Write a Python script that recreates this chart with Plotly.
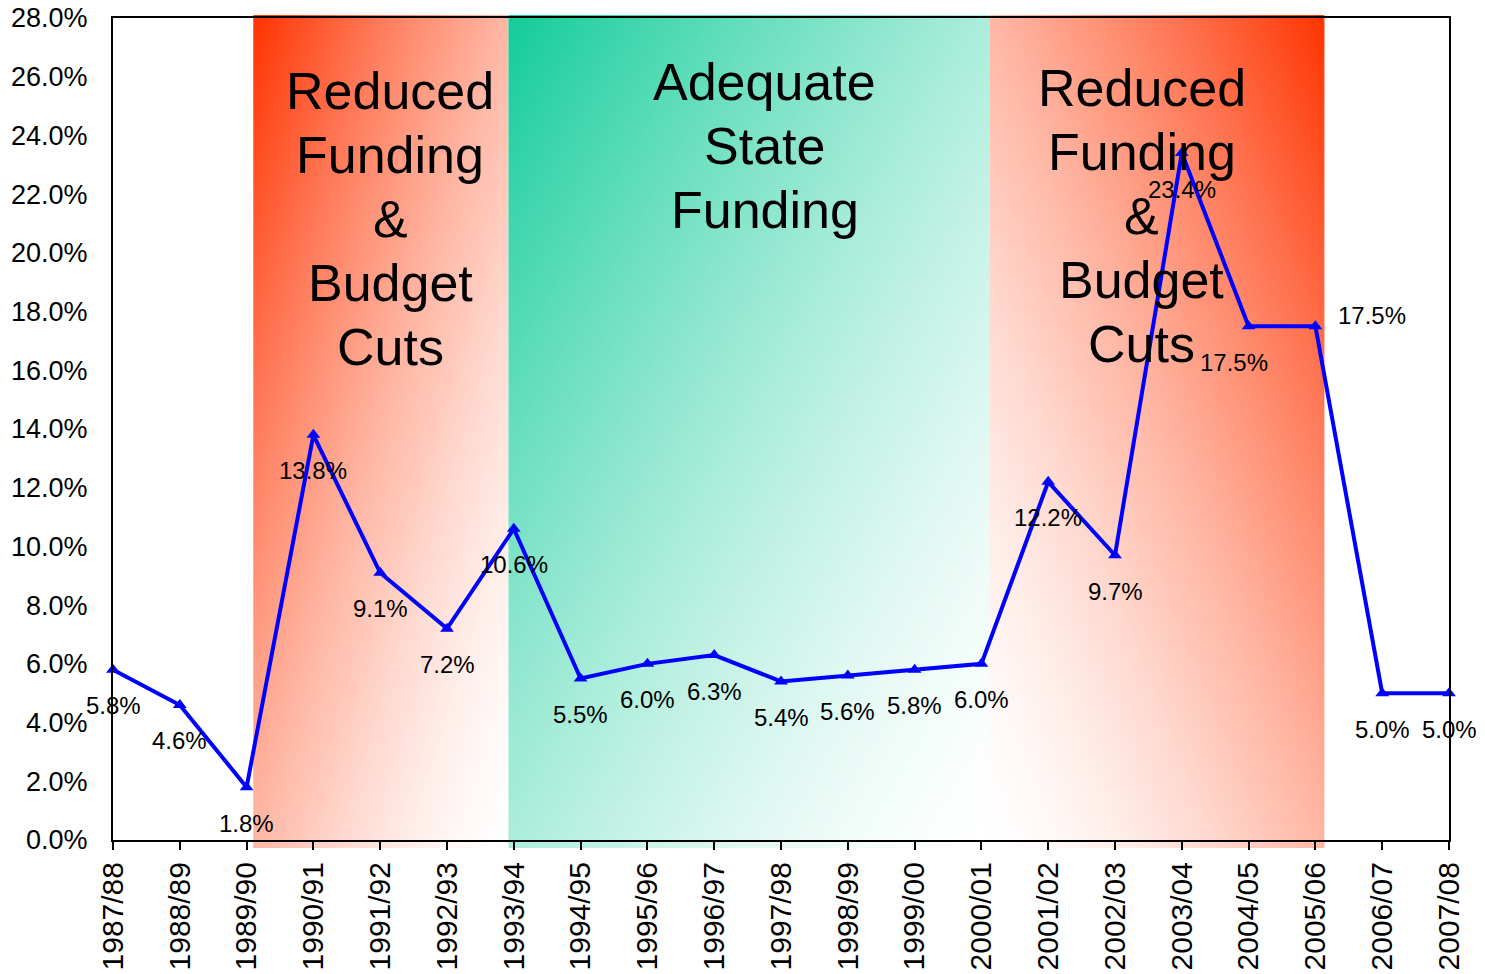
import numpy as np
import plotly.graph_objects as go

# ---------------- data ----------------
categories = ["1987/88", "1988/89", "1989/90", "1990/91", "1991/92", "1992/93",
              "1993/94", "1994/95", "1995/96", "1996/97", "1997/98", "1998/99",
              "1999/00", "2000/01", "2001/02", "2002/03", "2003/04", "2004/05",
              "2005/06", "2006/07", "2007/08"]
values = [5.8, 4.6, 1.8, 13.8, 9.1, 7.2, 10.6, 5.5, 6.0, 6.3, 5.4, 5.6,
          5.8, 6.0, 12.2, 9.7, 23.4, 17.5, 17.5, 5.0, 5.0]
y_ticks = [0, 2, 4, 6, 8, 10, 12, 14, 16, 18, 20, 22, 24, 26, 28]
y_tick_labels = [f"{t:.1f}%" for t in y_ticks]

band_lines = [["Reduced", "Funding", "&", "Budget", "Cuts"],
              ["Adequate", "State", "Funding"],
              ["Reduced", "Funding", "&", "Budget", "Cuts"]]
band_start = [2.1, 5.92, 13.12]
band_end = [5.92, 13.12, 18.14]

# ---------------- styles / layout geometry ----------------
W, H = 1485, 974
FONT = "Arial, 'Liberation Sans', sans-serif"
ml, mr, mt, mb = 113, 36, 15, 126
plot_h = H - mt - mb            # full area (bands extend slightly past axes)
ax_top_px, ax_bot_px = 18, 840  # visible axes box
d0 = (H - mb - ax_bot_px) / plot_h
d1 = (H - mb - ax_top_px) / plot_h
y_lo, y_hi = 0.0, 28.0
span = y_hi - y_lo
full_lo = y_lo - d0 * span / (d1 - d0)
full_hi = y_hi + (1 - d1) * span / (d1 - d0)

band_colors = [(255, 51, 0), (18, 204, 153), (255, 51, 0)]
band_mirror = [False, False, True]
band_title_x = [4.15, 9.76, 15.40]
band_title_top = [25.5, 25.82, 25.62]
line_step_px = 64

label_shift = {17: (-15, -36), 18: (57, 11)}


def gradient_scale(rgb, steps=16, gamma=1.5):
    out = []
    for s in np.linspace(0, 1, steps):
        g = 1 - (1 - s) ** gamma
        c = [round(ch + (255 - ch) * g) for ch in rgb]
        out.append([float(s), f"rgb({c[0]},{c[1]},{c[2]})"])
    return out


fig = go.Figure()

# diagonal gradient bands as smooth heatmaps on the full-height hidden axes
n = 60
for x0, x1, col, mir in zip(band_start, band_end, band_colors, band_mirror):
    xe = np.linspace(x0, x1, n + 1)
    ye = np.linspace(full_lo, full_hi, n + 1)
    xc = (xe[:-1] + xe[1:]) / 2
    yc = (ye[:-1] + ye[1:]) / 2
    u = (xc - x0) / (x1 - x0)
    if mir:
        u = 1 - u
    v = (full_hi - yc) / (full_hi - full_lo)
    U, V = np.meshgrid(u, v)
    Z = (U + V) / 2
    fig.add_trace(go.Heatmap(
        x=xe, y=ye, z=Z, zmin=0, zmax=1, zsmooth="best",
        colorscale=gradient_scale(col), showscale=False,
        hoverinfo="skip", xaxis="x", yaxis="y"))

# the series
xi = list(range(len(categories)))
fig.add_trace(go.Scatter(
    x=xi, y=values, mode="lines+markers", xaxis="x2", yaxis="y2",
    line=dict(color="#0000FF", width=4),
    marker=dict(symbol="triangle-up", size=12, color="#0000FF"),
    cliponaxis=False, hoverinfo="skip", showlegend=False))

annotations = []
for lines, bx, by in zip(band_lines, band_title_x, band_title_top):
    for k, t in enumerate(lines):
        annotations.append(dict(x=bx, y=by, xref="x2", yref="y2", text=t,
                                showarrow=False, yshift=-k * line_step_px,
                                font=dict(family=FONT, size=52, color="black"),
                                xanchor="center", yanchor="middle"))
for i, v in enumerate(values):
    dx, dy = label_shift.get(i, (0, -36))
    annotations.append(dict(x=i, y=v, xref="x2", yref="y2", text=f"{v:.1f}%",
                            showarrow=False, xshift=dx, yshift=dy,
                            font=dict(family=FONT, size=24, color="black"),
                            xanchor="center", yanchor="middle"))

fig.update_layout(
    width=W, height=H,
    margin=dict(l=ml, r=mr, t=mt, b=mb, pad=0),
    paper_bgcolor="white", plot_bgcolor="rgba(0,0,0,0)",
    showlegend=False,
    font=dict(family=FONT, color="black"),
    xaxis=dict(domain=[0, 1], range=[0, 20], visible=False, anchor="y",
               fixedrange=True),
    yaxis=dict(domain=[0, 1], range=[full_lo, full_hi], visible=False,
               anchor="x", fixedrange=True),
    xaxis2=dict(domain=[0, 1], range=[0, 20], anchor="y2",
                tickvals=xi, ticktext=categories, tickangle=-90,
                tickfont=dict(family=FONT, size=30, color="black"),
                ticks="outside", ticklen=8, tickwidth=1.5, tickcolor="black",
                showline=True, linecolor="black", linewidth=2, mirror=True,
                showgrid=False, zeroline=False, automargin=False),
    yaxis2=dict(domain=[d0, d1], range=[y_lo, y_hi], anchor="x2",
                tickvals=y_ticks, ticktext=y_tick_labels,
                tickfont=dict(family=FONT, size=27, color="black"),
                ticks="", ticklabelstandoff=18,
                showline=True, linecolor="black", linewidth=2, mirror=True,
                showgrid=False, zeroline=False, automargin=False),
    annotations=annotations,
)

fig.write_html("out.html", config={"displayModeBar": False},
               post_script="document.body.style.margin='0';")
